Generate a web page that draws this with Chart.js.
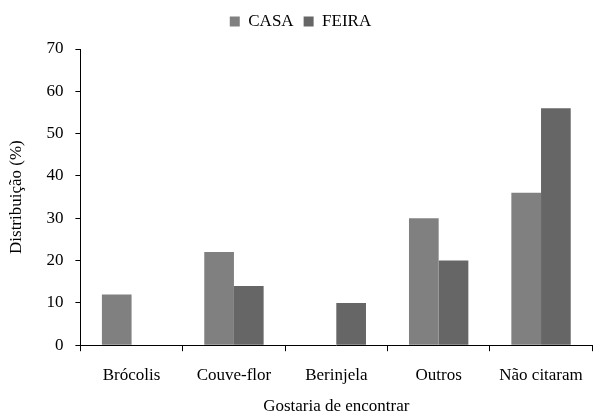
<!DOCTYPE html>
<html>
<head>
<meta charset="utf-8">
<script src="https://cdn.jsdelivr.net/npm/chart.js@4"></script>
<style>
  html, body { margin: 0; padding: 0; background: #fff; }
  #wrap { width: 597px; height: 414px; }
</style>
</head>
<body>
<div id="wrap"><canvas id="myChart" width="597" height="414"></canvas></div>
<script>
let categorias = ["Brócolis", "Couve-flor", "Berinjela", "Outros", "Não citaram"]
let casa = [12, 22, 0, 30, 36]
let feira = [0, 14, 10, 20, 56]
let yTicks = [0, 10, 20, 30, 40, 50, 60, 70]

const fuente = "'Times New Roman', 'Liberation Serif', Tinos, 'DejaVu Serif', serif"
Chart.defaults.font.family = fuente
Chart.defaults.font.size = 17
Chart.defaults.color = '#000'

// un poco de aire debajo de la leyenda
const margenLeyenda = {
    id: 'margenLeyenda',
    beforeInit(chart) {
        const fitOriginal = chart.legend.fit
        chart.legend.fit = function () {
            fitOriginal.bind(chart.legend)()
            this.height += 9
        }
    }
}

function pintar() {
    const data = {
        labels: categorias,
        datasets: [{
            label: 'CASA',
            data: casa,
            backgroundColor: '#808080',
            borderWidth: 0
        }, {
            label: 'FEIRA',
            data: feira,
            backgroundColor: '#666666',
            borderWidth: 0
        }]
    }

    const config = {
        type: 'bar',
        data: data,
        plugins: [margenLeyenda],
        options: {
            responsive: false,
            animation: false,
            layout: { padding: { top: 3, right: 2, left: 6, bottom: 0 } },
            datasets: {
                bar: { categoryPercentage: 0.58, barPercentage: 1 }
            },
            plugins: {
                legend: {
                    position: 'top',
                    labels: {
                        boxWidth: 10,
                        boxHeight: 10,
                        padding: 10
                    }
                },
                tooltip: { enabled: false }
            },
            scales: {
                x: {
                    grid: {
                        display: true,
                        offset: true,
                        drawOnChartArea: false,
                        drawTicks: true,
                        tickLength: 6,
                        color: '#000'
                    },
                    border: { color: '#000', width: 1 },
                    ticks: {
                        padding: 14,
                        maxRotation: 0
                    },
                    title: {
                        display: true,
                        text: 'Gostaria de encontrar',
                        padding: { top: -3, bottom: -3 }
                    }
                },
                y: {
                    min: 0,
                    max: 70,
                    afterBuildTicks: axis => { axis.ticks = yTicks.map(v => ({ value: v })) },
                    grid: {
                        display: true,
                        drawOnChartArea: false,
                        drawTicks: true,
                        tickLength: 5,
                        color: '#000'
                    },
                    border: { color: '#000', width: 1 },
                    ticks: {
                        padding: 12
                    },
                    title: {
                        display: true,
                        text: 'Distribuição (%)',
                        padding: { top: 0, bottom: 8 }
                    }
                }
            }
        }
    }

    myChart = new Chart(
        document.getElementById('myChart'),
        config
    )
}

document.fonts.load("17px 'Liberation Serif'").then(pintar, pintar)
</script>
</body>
</html>
